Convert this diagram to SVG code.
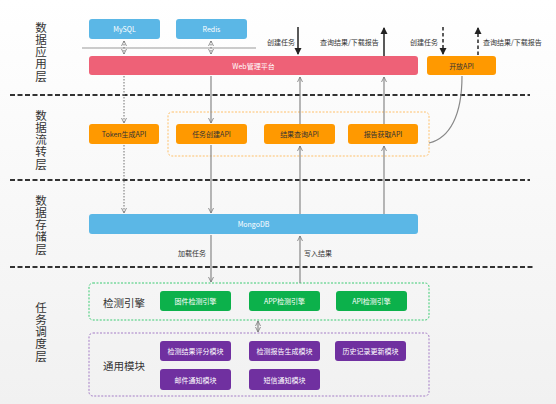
<svg xmlns="http://www.w3.org/2000/svg" width="556" height="404" viewBox="0 0 556 404">
<defs>
<linearGradient id="bg" x1="0" y1="0" x2="0" y2="1">
<stop offset="0" stop-color="#ffffff"/>
<stop offset="1" stop-color="#f1f1f1"/>
</linearGradient>
<marker id="ah" markerWidth="6" markerHeight="6" refX="5" refY="3" orient="auto" markerUnits="userSpaceOnUse">
<path d="M0,0.5 L5,3 L0,5.5" fill="none" stroke="#777" stroke-width="0.8"/>
</marker>
<marker id="ahs" markerWidth="6" markerHeight="6" refX="5" refY="3" orient="auto-start-reverse" markerUnits="userSpaceOnUse">
<path d="M0,0.5 L5,3 L0,5.5" fill="none" stroke="#777" stroke-width="0.8"/>
</marker>
<marker id="ahb" markerWidth="8" markerHeight="8" refX="6" refY="4" orient="auto" markerUnits="userSpaceOnUse">
<path d="M0,0.5 L7,4 L0,7.5 Z" fill="#222"/>
</marker>
</defs>
<style>
.layer{font-family:"Noto Sans CJK SC","Noto Sans",sans-serif;font-size:11.5px;fill:#333;writing-mode:vertical-rl;letter-spacing:0.6px}
.bt{font-family:"Noto Sans CJK SC","Liberation Sans",sans-serif;font-size:7px;text-anchor:middle;dominant-baseline:central}
.w{fill:#fff}
.d{fill:#333}
.lbl{font-family:"Noto Sans CJK SC","Liberation Sans",sans-serif;font-size:7px;fill:#333}
.grp{font-family:"Noto Sans CJK SC","Liberation Sans",sans-serif;font-size:10.5px;fill:#333;dominant-baseline:central}
.sep{stroke:#333;stroke-width:2;stroke-dasharray:5,2.5;fill:none}
.blue{fill:#5BB7E6}
.red{fill:#EE6177}
.org{fill:#FF9900}
.grn{fill:#0CB14B}
.pur{fill:#7030A0}
.c{stroke:#888;stroke-width:1.2;fill:none}
.cd{stroke:#888;stroke-width:1.2;fill:none;stroke-dasharray:1.5,1.5}
</style>
<rect x="0" y="0" width="556" height="404" fill="url(#bg)"/>

<g id="separators">
<line class="sep" x1="10" y1="95" x2="530" y2="95"/>
<line class="sep" x1="10" y1="180" x2="530" y2="180"/>
<line class="sep" x1="10" y1="267" x2="533" y2="267"/>
</g>

<g id="layer-labels">
<text class="layer" x="41" y="22">数据应用层</text>
<text class="layer" x="41" y="110">数据流转层</text>
<text class="layer" x="41" y="195">数据存储层</text>
<text class="layer" x="41" y="302">任务调度层</text>
</g>

<g id="containers">
<rect x="168" y="112" width="261" height="44" rx="4" fill="none" stroke="#FFC06A" stroke-width="1" stroke-dasharray="2,1.5"/>
<rect x="89" y="283" width="340" height="37" rx="4" fill="none" stroke="#3ACB72" stroke-width="1" stroke-dasharray="2,1.5"/>
<rect x="89" y="333" width="340" height="63" rx="4" fill="none" stroke="#A47CC6" stroke-width="1" stroke-dasharray="2,1.5"/>
<text class="grp" x="103" y="302">检测引擎</text>
<text class="grp" x="103" y="365">通用模块</text>
</g>

<g id="connectors">
<line x1="82" y1="48" x2="256" y2="48" stroke="#999" stroke-width="1"/>
<line class="cd" x1="124" y1="41" x2="124" y2="54" marker-start="url(#ahs)" marker-end="url(#ah)"/>
<line class="cd" x1="211" y1="41" x2="211" y2="54" marker-start="url(#ahs)" marker-end="url(#ah)"/>
<line x1="298" y1="27" x2="298" y2="54" stroke="#222" stroke-width="1.5" marker-end="url(#ahb)"/>
<line x1="384" y1="56" x2="384" y2="28" stroke="#222" stroke-width="1.5" marker-end="url(#ahb)"/>
<line x1="443" y1="27" x2="443" y2="54" stroke="#333" stroke-width="1.6" stroke-dasharray="3.5,2.5" marker-end="url(#ahb)"/>
<line x1="478" y1="55" x2="478" y2="28" stroke="#333" stroke-width="1.6" stroke-dasharray="3.5,2.5" marker-end="url(#ahb)"/>
<line class="cd" x1="124" y1="76" x2="124" y2="123" marker-end="url(#ah)"/>
<line class="cd" x1="124" y1="145" x2="124" y2="213" marker-end="url(#ah)"/>
<line class="c" x1="211" y1="76" x2="211" y2="123" marker-end="url(#ah)"/>
<line class="c" x1="211" y1="145" x2="211" y2="213" marker-end="url(#ah)"/>
<line class="c" x1="211" y1="235" x2="211" y2="282" marker-end="url(#ah)"/>
<line class="c" x1="300" y1="124" x2="300" y2="77" marker-end="url(#ah)"/>
<line class="c" x1="300" y1="214" x2="300" y2="146" marker-end="url(#ah)"/>
<line class="c" x1="300" y1="283" x2="300" y2="236" marker-end="url(#ah)"/>
<line class="c" x1="384" y1="124" x2="384" y2="77" marker-end="url(#ah)"/>
<line class="c" x1="384" y1="214" x2="384" y2="146" marker-end="url(#ah)"/>
<path class="c" d="M462,76 C462,115 450,138 429,143"/>
<line class="c" x1="258" y1="321" x2="258" y2="332" marker-start="url(#ahs)" marker-end="url(#ah)"/>
<text class="lbl" x="267" y="45">创建任务</text>
<text class="lbl" x="320" y="45">查询结果/下载报告</text>
<text class="lbl" x="410" y="45">创建任务</text>
<text class="lbl" x="483" y="45">查询结果/下载报告</text>
<text class="lbl" x="178" y="256">加载任务</text>
<text class="lbl" x="304" y="256">写入结果</text>
</g>

<g id="mysql"><rect class="blue" x="89" y="19" width="71" height="20" rx="3"/><text class="bt w" x="124.5" y="29">MySQL</text></g>
<g id="redis"><rect class="blue" x="176" y="19" width="71" height="20" rx="3"/><text class="bt w" x="211.5" y="29">Redis</text></g>
<g id="web"><rect class="red" x="89" y="56" width="329" height="19" rx="3"/><text class="bt w" x="253.5" y="65.5">Web管理平台</text></g>
<g id="openapi"><rect class="org" x="427" y="56" width="69" height="19" rx="3"/><text class="bt d" x="461.5" y="65.5">开放API</text></g>

<g id="token"><rect class="org" x="89" y="124" width="70" height="20" rx="3"/><text class="bt d" x="124" y="134">Token生成API</text></g>
<g id="task-create"><rect class="org" x="176" y="124" width="71" height="20" rx="3"/><text class="bt d" x="211.5" y="134">任务创建API</text></g>
<g id="result-query"><rect class="org" x="264" y="124" width="71" height="20" rx="3"/><text class="bt d" x="299.5" y="134">结果查询API</text></g>
<g id="report-get"><rect class="org" x="348" y="124" width="70" height="20" rx="3"/><text class="bt d" x="383" y="134">报告获取API</text></g>

<g id="mongodb"><rect class="blue" x="89" y="214" width="329" height="20" rx="3"/><text class="bt w" x="253.5" y="224">MongoDB</text></g>

<g id="fw-engine"><rect class="grn" x="160" y="291" width="71" height="20" rx="3"/><text class="bt w" x="195.5" y="301">固件检测引擎</text></g>
<g id="app-engine"><rect class="grn" x="249" y="291" width="71" height="20" rx="3"/><text class="bt w" x="284.5" y="301">APP检测引擎</text></g>
<g id="api-engine"><rect class="grn" x="336" y="291" width="71" height="20" rx="3"/><text class="bt w" x="371.5" y="301">API检测引擎</text></g>

<g id="score"><rect class="pur" x="160" y="341" width="71" height="20" rx="3"/><text class="bt w" x="195.5" y="351">检测结果评分模块</text></g>
<g id="report-gen"><rect class="pur" x="249" y="341" width="71" height="20" rx="3"/><text class="bt w" x="284.5" y="351">检测报告生成模块</text></g>
<g id="history"><rect class="pur" x="335" y="341" width="71" height="20" rx="3"/><text class="bt w" x="370.5" y="351">历史记录更新模块</text></g>
<g id="mail"><rect class="pur" x="160" y="369" width="71" height="21" rx="3"/><text class="bt w" x="195.5" y="379.5">邮件通知模块</text></g>
<g id="sms"><rect class="pur" x="249" y="369" width="71" height="21" rx="3"/><text class="bt w" x="284.5" y="379.5">短信通知模块</text></g>
</svg>
